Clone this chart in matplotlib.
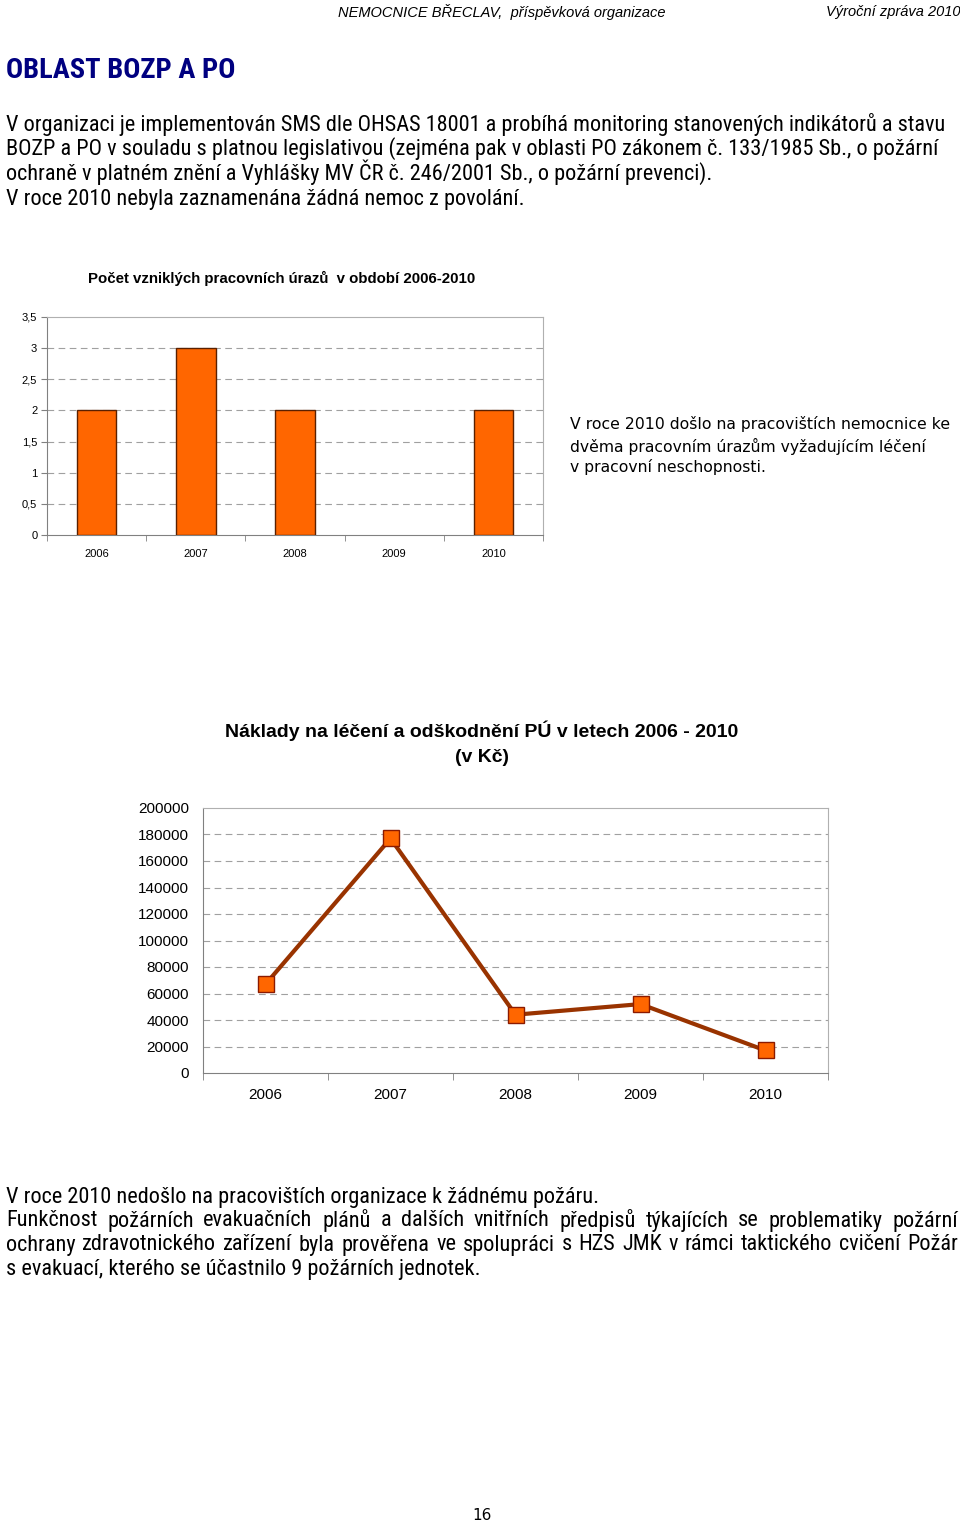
import matplotlib
matplotlib.use("Agg")
import matplotlib.pyplot as plt
from matplotlib import font_manager
import numpy as np

# --- data
years = ["2006", "2007", "2008", "2009", "2010"]
injuries = [2, 3, 2, 0, 2]
costs = [67000, 177000, 44000, 52000, 17000]
injury_ticks = [0, 0.5, 1, 1.5, 2, 2.5, 3, 3.5]
injury_tick_labels = ["0", "0,5", "1", "1,5", "2", "2,5", "3", "3,5"]
cost_ticks = [0, 20000, 40000, 60000, 80000, 100000, 120000, 140000, 160000, 180000, 200000]

W, H = 960, 1525
ARIAL = ["Liberation Sans", "DejaVu Sans"]
TAHOMA = ["DejaVu Sans"]
ORANGE = "#ff6600"
BROWN = "#993300"
GRID = "#a0a0a0"

# pick a narrow face if there is one, else Arial-like
installed = {f.name for f in font_manager.fontManager.ttflist}
BODY = ["Liberation Sans", "DejaVu Sans"]
for cand in ["Liberation Sans Narrow", "Roboto Condensed", "Open Sans Condensed", "Arial Narrow"]:
    if cand in installed:
        BODY = [cand, "DejaVu Sans"]
        break

fig = plt.figure(figsize=(W / 100, H / 100), dpi=100)
fig.patch.set_facecolor("white")
R = fig.canvas.get_renderer()


def px(x, y):
    # page pixel -> figure fraction
    return x / W, 1 - y / H


def fit(s, width, family=BODY, **kw):
    # font size that makes s about `width` pixels wide
    t = fig.text(0, 0, s, family=family, fontsize=10, **kw)
    w = t.get_window_extent(R).width
    t.remove()
    return 10 * width / w


def txt(x, y, s, **kw):
    kw.setdefault("family", BODY)
    kw.setdefault("va", "center")
    fig.text(*px(x, y), s, **kw)


def justified(x0, x1, y, line, **kw):
    # spread the words of one line over x0..x1
    words = line.split()
    arts = [fig.text(0, 0, w, va="center", family=BODY, **kw) for w in words]
    widths = [a.get_window_extent(R).width for a in arts]
    gap = (x1 - x0 - sum(widths)) / (len(words) - 1)
    xx = x0
    for a, w in zip(arts, widths):
        a.set_position(px(xx, y))
        xx += w + gap


body_fs = fit("V organizaci je implementován SMS dle OHSAS 18001 a probíhá monitoring stanovených indikátorů a stavu", 935)
side_fs = fit("V roce 2010 došlo na pracovištích nemocnice ke", 378, family=TAHOMA)
title_fs = fit("OBLAST BOZP A PO", 229, weight="bold")

# --- header
txt(338, 12, "NEMOCNICE BŘECLAV,  příspěvková organizace", family=ARIAL, style="italic", fontsize=10.5)
txt(960, 12, "Výroční zpráva 2010", family=ARIAL, style="italic", fontsize=10.5, ha="right")
txt(6, 70, "OBLAST BOZP A PO", fontsize=title_fs, weight="bold", color="#000080")

txt(6, 125, "V organizaci je implementován SMS dle OHSAS 18001 a probíhá monitoring stanovených indikátorů a stavu", fontsize=body_fs)
txt(6, 149, "BOZP a PO v souladu s platnou legislativou (zejména pak v oblasti PO zákonem č. 133/1985 Sb., o požární", fontsize=body_fs)
txt(6, 172, "ochraně v platném znění a Vyhlášky MV ČR č. 246/2001 Sb., o požární prevenci).", fontsize=body_fs)
txt(6, 200, "V roce 2010 nebyla zaznamenána žádná nemoc z povolání.", fontsize=body_fs)

# --- bar chart
l, b = px(47, 535)
ax1 = fig.add_axes([l, b, (543 - 47) / W, (535 - 317) / H])
x = np.arange(len(years))
ax1.bar(x, injuries, width=0.4, color=ORANGE,
        edgecolor=["#5a2000" if v else "none" for v in injuries], linewidth=1, zorder=3)
ax1.set_xlim(-0.5, len(years) - 0.5)
ax1.set_ylim(0, 3.5)
ax1.set_yticks(injury_ticks)
ax1.set_yticklabels(injury_tick_labels, family=ARIAL, fontsize=8)
ax1.set_xticks(x)
ax1.set_xticklabels(years, family=ARIAL, fontsize=8)
ax1.set_xticks(np.arange(-0.5, len(years)), minor=True)
ax1.tick_params(axis="x", which="major", length=0, pad=10)
ax1.tick_params(axis="x", which="minor", length=4, color="#808080")
ax1.tick_params(axis="y", length=4, color="#808080", pad=3)
for yv in injury_ticks[1:-1]:
    ax1.axhline(yv, color=GRID, lw=0.8, ls=(0, (6, 4)), zorder=1)
for s in ax1.spines.values():
    s.set_color("#b0b0b0")
ax1.spines["left"].set_color("#808080")
ax1.spines["bottom"].set_color("#808080")
txt(282, 278, "Počet vzniklých pracovních úrazů  v období 2006-2010", family=ARIAL,
    weight="bold", fontsize=10.8, ha="center")

txt(570, 424, "V roce 2010 došlo na pracovištích nemocnice ke", family=TAHOMA, fontsize=side_fs)
txt(570, 446, "dvěma pracovním úrazům vyžadujícím léčení", family=TAHOMA, fontsize=side_fs)
txt(570, 467, "v pracovní neschopnosti.", family=TAHOMA, fontsize=side_fs)

# --- line chart
l, b = px(203, 1073)
ax2 = fig.add_axes([l, b, (828 - 203) / W, (1073 - 808) / H])
ax2.plot(x, costs, color=BROWN, lw=3, marker="s", ms=11, mfc=ORANGE, mec="#8b1a00",
         mew=1, zorder=3, clip_on=False)
ax2.set_xlim(-0.5, len(years) - 0.5)
ax2.set_ylim(0, 200000)
ax2.set_yticks(cost_ticks)
ax2.set_yticklabels([str(v) for v in cost_ticks], family=ARIAL, fontsize=11)
ax2.set_xticks(x)
ax2.set_xticklabels(years, family=ARIAL, fontsize=11)
ax2.set_xticks(np.arange(-0.5, len(years)), minor=True)
ax2.tick_params(axis="x", which="major", length=0, pad=11)
ax2.tick_params(axis="x", which="minor", length=5, color="#808080")
ax2.tick_params(axis="y", length=0, pad=10)
for yv in cost_ticks[1:-1]:
    ax2.axhline(yv, color=GRID, lw=0.8, ls=(0, (6, 4)), zorder=1)
for s in ax2.spines.values():
    s.set_color("#b0b0b0")
ax2.spines["left"].set_color("#808080")
ax2.spines["bottom"].set_color("#808080")
txt(482, 731, "Náklady na léčení a odškodnění PÚ v letech 2006 - 2010", family=ARIAL,
    weight="bold", fontsize=14, ha="center")
txt(482, 757, "(v Kč)", family=ARIAL, weight="bold", fontsize=14, ha="center")

# --- closing paragraph
txt(6, 1197, "V roce 2010 nedošlo na pracovištích organizace k žádnému požáru.", fontsize=body_fs)
justified(6, 958, 1221, "Funkčnost požárních evakuačních plánů a dalších vnitřních předpisů týkajících se problematiky požární", fontsize=body_fs)
justified(6, 958, 1245, "ochrany zdravotnického zařízení byla  prověřena ve spolupráci s HZS JMK v rámci taktického cvičení Požár", fontsize=body_fs)
txt(6, 1269, "s evakuací, kterého se účastnilo 9 požárních jednotek.", fontsize=body_fs)

txt(482, 1515, "16", family=TAHOMA, fontsize=11, ha="center")

fig.savefig("out.png", dpi=100)
